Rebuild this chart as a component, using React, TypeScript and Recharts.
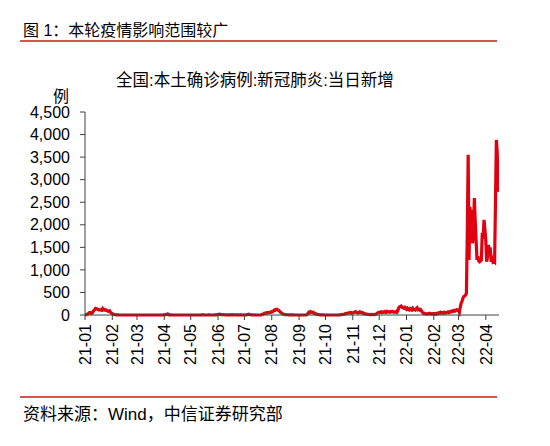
import React from 'react';
import { LineChart, Line, XAxis, YAxis } from 'recharts';

// daily new local confirmed cases, one array per month
const monthLabels = [
  '21-01', '21-02', '21-03', '21-04', '21-05', '21-06', '21-07', '21-08',
  '21-09', '21-10', '21-11', '21-12', '22-01', '22-02', '22-03', '22-04',
];

const jan21 = [1, 4, 14, 19, 33, 53, 52, 33, 40, 70, 100, 120, 145, 138, 130, 125, 110, 118, 109, 103, 140, 115, 120, 105, 110, 95, 85, 80, 92, 60, 40];
const feb21 = [30, 20, 12, 8, 5, 4, 2, 1, 0, 0, 0, 0, 0, 0, 0, 0, 0, 0, 0, 0, 0, 0, 0, 0, 0, 0, 0, 0];
const mar21 = [0, 0, 0, 0, 0, 0, 0, 0, 0, 0, 0, 0, 0, 0, 0, 0, 0, 0, 0, 0, 0, 0, 0, 0, 0, 0, 0, 0, 0, 0, 6];
const apr21 = [6, 2, 15, 12, 22, 7, 3, 2, 1, 0, 0, 0, 0, 0, 0, 0, 0, 0, 0, 0, 0, 0, 0, 0, 0, 0, 0, 0, 0, 0];
const may21 = [0, 0, 0, 0, 0, 0, 0, 0, 0, 0, 0, 0, 2, 3, 2, 4, 0, 0, 0, 0, 2, 4, 0, 0, 0, 0, 1, 3, 4, 2, 7];
const jun21 = [10, 16, 18, 12, 9, 6, 8, 5, 4, 5, 3, 4, 3, 1, 2, 3, 6, 3, 2, 2, 4, 2, 1, 3, 3, 2, 1, 2, 0, 1];
const jul21 = [3, 0, 1, 8, 12, 18, 10, 6, 4, 2, 2, 0, 1, 0, 0, 0, 0, 0, 0, 0, 16, 20, 25, 40, 38, 50, 45, 55, 60, 55, 60];
const aug21 = [75, 70, 90, 110, 105, 120, 125, 110, 100, 80, 60, 45, 30, 20, 15, 10, 8, 5, 5, 3, 2, 2, 1, 2, 1, 1, 0, 0, 0, 0, 0];
const sep21 = [0, 0, 0, 0, 0, 0, 0, 0, 0, 10, 35, 60, 50, 75, 65, 55, 60, 40, 35, 25, 20, 10, 8, 5, 2, 3, 4, 2, 0, 1];
const oct21 = [0, 0, 0, 0, 0, 0, 0, 0, 0, 0, 0, 0, 0, 0, 0, 0, 3, 4, 10, 15, 12, 18, 25, 30, 35, 40, 45, 50, 48, 55, 40];
const nov21 = [45, 55, 60, 75, 65, 50, 45, 55, 70, 55, 50, 55, 40, 30, 25, 20, 18, 15, 12, 10, 12, 10, 8, 15, 12, 10, 15, 25, 45, 55];
const dec21 = [50, 60, 70, 55, 65, 60, 75, 60, 55, 80, 70, 65, 60, 75, 70, 80, 65, 60, 70, 80, 60, 90, 150, 180, 190, 200, 170, 160, 150, 170, 160];
const jan22 = [130, 150, 120, 110, 140, 120, 110, 150, 130, 120, 110, 140, 160, 120, 130, 110, 120, 90, 60, 40, 30, 35, 30, 20, 25, 30, 40, 30, 25, 20, 30];
const feb22 = [30, 20, 30, 20, 40, 35, 50, 40, 60, 45, 50, 40, 60, 50, 45, 60, 70, 55, 65, 80, 70, 90, 80, 100, 90, 110, 120, 100];
const mar22 = [100, 60, 170, 260, 300, 370, 410, 420, 440, 480, 1820, 3550, 1220, 2400, 1890, 2330, 1590, 1800, 2590, 2100, 1660, 1220, 1300, 1200, 1180, 1200, 1220, 1820, 1700, 2110, 1900];
const apr22 = [1660, 1180, 1300, 1550, 1400, 1500, 1180, 1250, 1180, 1200, 1180, 2500, 3880, 3600, 2730];

const months = [jan21, feb21, mar21, apr21, may21, jun21, jul21, aug21, sep21, oct21, nov21, dec21, jan22, feb22, mar22, apr22];

const yTicks = [0, 500, 1000, 1500, 2000, 2500, 3000, 3500, 4000, 4500];

const data = months.flat().map((value, day) => ({ day, value }));

const monthStarts: number[] = [];
months.reduce((start, m) => {
  monthStarts.push(start);
  return start + m.length;
}, 0);

const FONT = '"Liberation Sans", Arial, "Noto Sans CJK SC", sans-serif';

function MonthTick(props: any) {
  const { x, payload } = props;
  const idx = monthStarts.indexOf(payload.value);
  const label = idx >= 0 ? monthLabels[idx] : '';
  const y = 324;
  return (
    <text
      x={x}
      y={y}
      transform={`rotate(-90 ${x} ${y})`}
      textAnchor="end"
      dy="0.36em"
      fontSize={16}
      fontFamily={FONT}
      fill="#000"
    >
      {label}
    </text>
  );
}

const fmt = (v: number) => v.toLocaleString('en-US');

export default function App() {
  return (
    <div style={{ position: 'absolute', left: 0, top: 0, width: 550, height: 446, background: '#fff', fontFamily: FONT, color: '#000' }}>
      <div style={{ position: 'absolute', left: 23, top: 20, fontSize: 16, lineHeight: '22px', whiteSpace: 'nowrap' }}>
        图 1：本轮疫情影响范围较广
      </div>
      <div style={{ position: 'absolute', left: 20, top: 40, width: 477, height: 1.5, background: '#d9534f' }} />
      <div style={{ position: 'absolute', left: 0, width: 510, top: 69, fontSize: 16.5, lineHeight: '22px', textAlign: 'center', whiteSpace: 'nowrap' }}>
        全国:本土确诊病例:新冠肺炎:当日新增
      </div>
      <div style={{ position: 'absolute', left: 53, top: 86, fontSize: 16, lineHeight: '22px' }}>例</div>

      <div style={{ position: 'absolute', left: 0, top: 0 }}>
        <LineChart width={550} height={446} data={data} margin={{ top: 112, right: 51, bottom: 71, left: 25 }}>
          <XAxis
            dataKey="day"
            type="number"
            domain={[0, 470]}
            ticks={monthStarts}
            interval={0}
            tickSize={5}
            stroke="#404040"
            tick={<MonthTick />}
            height={60}
            allowDataOverflow
          />
          <YAxis
            type="number"
            domain={[0, 4500]}
            ticks={yTicks}
            interval={0}
            tickSize={5}
            tickMargin={10}
            width={60}
            stroke="#404040"
            tick={{ fill: '#000', fontSize: 16, fontFamily: FONT }}
            tickFormatter={fmt}
          />
          <Line
            type="linear"
            dataKey="value"
            stroke="#e0000f"
            strokeWidth={3.2}
            dot={false}
            isAnimationActive={false}
          />
        </LineChart>
      </div>

      <div style={{ position: 'absolute', left: 20, top: 396, width: 477, height: 1.5, background: '#d9534f' }} />
      <div style={{ position: 'absolute', left: 23, top: 404, fontSize: 17, lineHeight: '22px', whiteSpace: 'nowrap' }}>
        资料来源：Wind，中信证券研究部
      </div>
    </div>
  );
}
